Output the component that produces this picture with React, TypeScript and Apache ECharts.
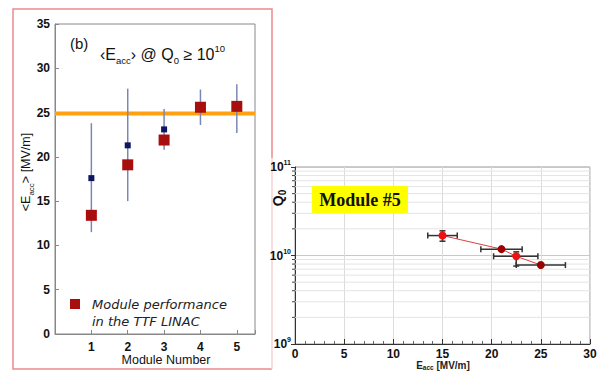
import React, { useEffect, useRef } from 'react';
import * as echarts from 'echarts';

// Left panel: <Eacc> per module
const modules = [1, 2, 3, 4, 5];
const linacEacc = [13.4, 19.1, 21.9, 25.6, 25.7];
const cavityEacc = [17.6, 21.3, 23.1];
const errLow = [11.5, 15.0, 20.8, 23.6, 22.7];
const errHigh = [23.8, 27.7, 25.4, 27.6, 28.2];
const targetEacc = 24.9;

// Right panel: Module #5 Q0 vs Eacc
const m5Eacc = [15, 21, 22.5, 25];
const m5Q0 = [1.68e10, 1.18e10, 0.98e10, 0.78e10];
const m5EaccLow = [13.5, 18.9, 20.2, 22.5];
const m5EaccHigh = [16.5, 23.1, 24.7, 27.5];
const m5Q0Low: (number | null)[] = [1.45e10, null, 0.76e10, null];
const m5Q0High: (number | null)[] = [1.9e10, null, 1.1e10, null];
const m5Colors = ['#ee1111', '#a00000', '#ee1111', '#990000'];
const q0Decades = [1e9, 1e10];
const minorMultipliers = [2, 3, 4, 5, 6, 7, 8, 9];

const FONT = 'Liberation Sans, Arial, sans-serif';

export default function App() {
  const ref = useRef<HTMLDivElement>(null);
  useEffect(() => {
    if (!ref.current) return;
    const chart = echarts.init(ref.current, null, { renderer: 'svg' });

    const minorVals: number[] = [];
    q0Decades.forEach((d) => minorMultipliers.forEach((k) => minorVals.push(d * k)));

    const vertData = m5Eacc
      .map((x, i) => [x, m5Q0Low[i], m5Q0High[i]])
      .filter((d) => d[1] != null && d[2] != null);

    const option: any = {
      animation: false,
      backgroundColor: '#ffffff',
      grid: [
        { left: 55, top: 24, width: 200, height: 310, show: true, borderColor: '#888', borderWidth: 1, backgroundColor: 'transparent' },
        { left: 295, top: 167, width: 295, height: 177, show: true, borderColor: '#999', borderWidth: 1, backgroundColor: 'transparent' },
      ],
      xAxis: [
        {
          gridIndex: 0, type: 'value', min: 0, max: 5.5, interval: 1,
          axisLine: { lineStyle: { color: '#888' } },
          axisTick: { inside: true, length: 4, lineStyle: { color: '#888' } },
          axisLabel: {
            color: '#111', fontSize: 12, fontWeight: 'bold', fontFamily: FONT, margin: 7,
            formatter: (v: number) => (modules.indexOf(v) >= 0 ? String(v) : ''),
          },
          splitLine: { show: false },
        },
        {
          gridIndex: 1, type: 'value', min: 0, max: 30, interval: 5,
          axisLine: { lineStyle: { color: '#333' } },
          axisTick: { inside: true, length: 5, lineStyle: { color: '#333' } },
          minorTick: { show: true, splitNumber: 5, length: 3, lineStyle: { color: '#666' } },
          axisLabel: { color: '#111', fontSize: 12, fontWeight: 'bold', fontFamily: FONT, margin: 4 },
          splitLine: { show: true, lineStyle: { color: '#dcdcdc' } },
        },
      ],
      yAxis: [
        {
          gridIndex: 0, type: 'value', min: 0, max: 35, interval: 5,
          axisLine: { show: true, lineStyle: { color: '#888' } },
          axisTick: { show: true, inside: true, length: 4, lineStyle: { color: '#888' } },
          axisLabel: { color: '#111', fontSize: 12, fontWeight: 'bold', fontFamily: FONT, margin: 5 },
          splitLine: { show: false },
        },
        {
          gridIndex: 1, type: 'log', logBase: 10, min: 1e9, max: 1e11,
          axisLine: { show: true, lineStyle: { color: '#333' } },
          axisTick: { show: true, length: 4, lineStyle: { color: '#333' } },
          axisLabel: {
            margin: 4,
            formatter: (v: number) => `{b|10}{s|${Math.round(Math.log10(v))}}`,
            rich: {
              b: { fontSize: 12, fontWeight: 'bold', color: '#111', fontFamily: FONT, lineHeight: 16 },
              s: { fontSize: 7, fontWeight: 'bold', color: '#111', fontFamily: FONT, lineHeight: 8, verticalAlign: 'top' },
            },
          },
          splitLine: { show: true, lineStyle: { color: '#c8c8c8' } },
        },
      ],
      series: [
        {
          type: 'line', xAxisIndex: 0, yAxisIndex: 0, z: 2,
          data: [[0, targetEacc], [5.5, targetEacc]],
          symbol: 'none', lineStyle: { color: '#ffa010', width: 4 },
        },
        {
          type: 'custom', xAxisIndex: 0, yAxisIndex: 0, z: 3,
          data: modules.map((m, i) => [m, errLow[i], errHigh[i]]),
          encode: { x: 0, y: [1, 2] },
          renderItem: (params: any, api: any) => {
            const a = api.coord([api.value(0), api.value(1)]);
            const b = api.coord([api.value(0), api.value(2)]);
            return { type: 'line', shape: { x1: a[0], y1: a[1], x2: b[0], y2: b[1] }, style: { stroke: '#7c86b6', lineWidth: 1.5 } };
          },
        },
        {
          type: 'scatter', xAxisIndex: 0, yAxisIndex: 0, z: 4,
          data: cavityEacc.map((v, i) => [modules[i], v]),
          symbol: 'rect', symbolSize: 6, itemStyle: { color: '#0d1660', opacity: 1 },
        },
        {
          type: 'scatter', xAxisIndex: 0, yAxisIndex: 0, z: 5,
          data: linacEacc.map((v, i) => [modules[i], v]),
          symbol: 'rect', symbolSize: 11, itemStyle: { color: '#a80e0e', opacity: 1 },
        },
        // right panel minor log gridlines + ticks
        {
          type: 'custom', xAxisIndex: 1, yAxisIndex: 1, z: 1, silent: true,
          data: minorVals.map((v) => [0, v]),
          encode: { x: 0, y: 1 },
          renderItem: (params: any, api: any) => {
            const p = api.coord([0, api.value(1)]);
            const cs = params.coordSys;
            return {
              type: 'group',
              children: [
                { type: 'line', shape: { x1: cs.x, y1: p[1], x2: cs.x + cs.width, y2: p[1] }, style: { stroke: '#e4e4e4', lineWidth: 1 } },
                { type: 'line', shape: { x1: cs.x - 3, y1: p[1], x2: cs.x, y2: p[1] }, style: { stroke: '#444', lineWidth: 1 } },
              ],
            };
          },
        },
        {
          type: 'line', xAxisIndex: 1, yAxisIndex: 1, z: 3,
          data: m5Eacc.map((x, i) => [x, m5Q0[i]]),
          symbol: 'none', lineStyle: { color: '#e04040', width: 1 },
        },
        {
          type: 'custom', xAxisIndex: 1, yAxisIndex: 1, z: 4,
          data: m5Eacc.map((x, i) => [m5EaccLow[i], m5Q0[i], m5EaccHigh[i]]),
          encode: { x: [0, 2], y: 1 },
          renderItem: (params: any, api: any) => {
            const a = api.coord([api.value(0), api.value(1)]);
            const b = api.coord([api.value(2), api.value(1)]);
            const st = { stroke: '#333', lineWidth: 1.5 };
            return {
              type: 'group',
              children: [
                { type: 'line', shape: { x1: a[0], y1: a[1], x2: b[0], y2: b[1] }, style: st },
                { type: 'line', shape: { x1: a[0], y1: a[1] - 3, x2: a[0], y2: a[1] + 3 }, style: st },
                { type: 'line', shape: { x1: b[0], y1: b[1] - 3, x2: b[0], y2: b[1] + 3 }, style: st },
              ],
            };
          },
        },
        {
          type: 'custom', xAxisIndex: 1, yAxisIndex: 1, z: 4,
          data: vertData,
          encode: { x: 0, y: [1, 2] },
          renderItem: (params: any, api: any) => {
            const a = api.coord([api.value(0), api.value(1)]);
            const b = api.coord([api.value(0), api.value(2)]);
            const st = { stroke: '#333', lineWidth: 1.5 };
            return {
              type: 'group',
              children: [
                { type: 'line', shape: { x1: a[0], y1: a[1], x2: b[0], y2: b[1] }, style: st },
                { type: 'line', shape: { x1: a[0] - 3, y1: a[1], x2: a[0] + 3, y2: a[1] }, style: st },
                { type: 'line', shape: { x1: b[0] - 3, y1: b[1], x2: b[0] + 3, y2: b[1] }, style: st },
              ],
            };
          },
        },
        {
          type: 'scatter', xAxisIndex: 1, yAxisIndex: 1, z: 5,
          data: m5Eacc.map((x, i) => ({ value: [x, m5Q0[i]], itemStyle: { color: m5Colors[i], opacity: 1 } })),
          symbol: 'circle', symbolSize: 8,
        },
      ],
      graphic: [
        {
          type: 'polyline', silent: true, z: 0,
          shape: { points: [[272, 158], [272, 9], [13, 9], [13, 369], [272, 369]] },
          style: { stroke: '#ec8a8a', lineWidth: 1.5, fill: 'none' },
        },
        {
          type: 'line', silent: true, z: 0,
          shape: { x1: 272, y1: 158, x2: 272, y2: 369 },
          style: { stroke: '#f6d3d3', lineWidth: 1.5 },
        },
        {
          type: 'text', x: 70, y: 43,
          style: { text: '(b)', fontSize: 15, fontFamily: FONT, fill: '#111', verticalAlign: 'middle' },
        },
        {
          type: 'text', x: 100, y: 54,
          style: {
            text: '{t|‹E}{sub|acc}{t|› @ Q}{sub|0}{t| ≥ 10}{sup|10}',
            verticalAlign: 'middle',
            rich: {
              t: { fontSize: 16, fontFamily: FONT, fill: '#111', lineHeight: 22 },
              sub: { fontSize: 9.5, fontFamily: FONT, fill: '#111', lineHeight: 14, verticalAlign: 'bottom' },
              sup: { fontSize: 9.5, fontFamily: FONT, fill: '#111', lineHeight: 14, verticalAlign: 'top' },
            },
          },
        },
        {
          type: 'text', x: 26, y: 172, rotation: Math.PI / 2,
          style: {
            text: '{t|<E}{sub|acc}{t|> [MV/m]}',
            align: 'center', verticalAlign: 'middle',
            rich: {
              t: { fontSize: 12.5, fontFamily: FONT, fill: '#111', lineHeight: 18 },
              sub: { fontSize: 8, fontFamily: FONT, fill: '#111', lineHeight: 12, verticalAlign: 'bottom' },
            },
          },
        },
        {
          type: 'text', x: 166, y: 360,
          style: { text: 'Module Number', fontSize: 12.5, fontFamily: FONT, fill: '#111', align: 'center', verticalAlign: 'middle' },
        },
        {
          type: 'rect', shape: { x: 70, y: 299, width: 10, height: 10 },
          style: { fill: '#a80e0e' },
        },
        {
          type: 'text', x: 92, y: 304,
          style: { text: 'Module performance', fontSize: 13, fontStyle: 'italic', fontFamily: 'DejaVu Sans, sans-serif', fill: '#222', verticalAlign: 'middle' },
        },
        {
          type: 'text', x: 92, y: 321,
          style: { text: 'in the TTF LINAC', fontSize: 13, fontStyle: 'italic', fontFamily: 'DejaVu Sans, sans-serif', fill: '#222', verticalAlign: 'middle' },
        },
        {
          type: 'rect', shape: { x: 312, y: 186, width: 96, height: 27 },
          style: { fill: '#ffff00' }, z: 10,
        },
        {
          type: 'text', x: 360, y: 200, z: 11,
          style: { text: 'Module #5', fontSize: 18, fontWeight: 'bold', fontFamily: 'Liberation Serif, Times New Roman, serif', fill: '#111', align: 'center', verticalAlign: 'middle' },
        },
        {
          type: 'text', x: 278, y: 198, rotation: Math.PI / 2,
          style: {
            text: '{t|Q}{sub|0}',
            align: 'center', verticalAlign: 'middle',
            rich: {
              t: { fontSize: 14, fontWeight: 'bold', fontFamily: FONT, fill: '#111', lineHeight: 18 },
              sub: { fontSize: 10, fontWeight: 'bold', fontFamily: FONT, fill: '#111', lineHeight: 12, verticalAlign: 'bottom' },
            },
          },
        },
        {
          type: 'text', x: 443, y: 365,
          style: {
            text: '{t|E}{sub|acc}{t| [MV/m]}',
            align: 'center', verticalAlign: 'middle',
            rich: {
              t: { fontSize: 10, fontWeight: 'bold', fontFamily: FONT, fill: '#222', lineHeight: 12 },
              sub: { fontSize: 6.5, fontWeight: 'bold', fontFamily: FONT, fill: '#222', lineHeight: 8, verticalAlign: 'bottom' },
            },
          },
        },
      ],
    };

    chart.setOption(option);
    return () => chart.dispose();
  }, []);

  return <div ref={ref} style={{ position: 'fixed', left: 0, top: 0, width: 602, height: 372 }} />;
}
